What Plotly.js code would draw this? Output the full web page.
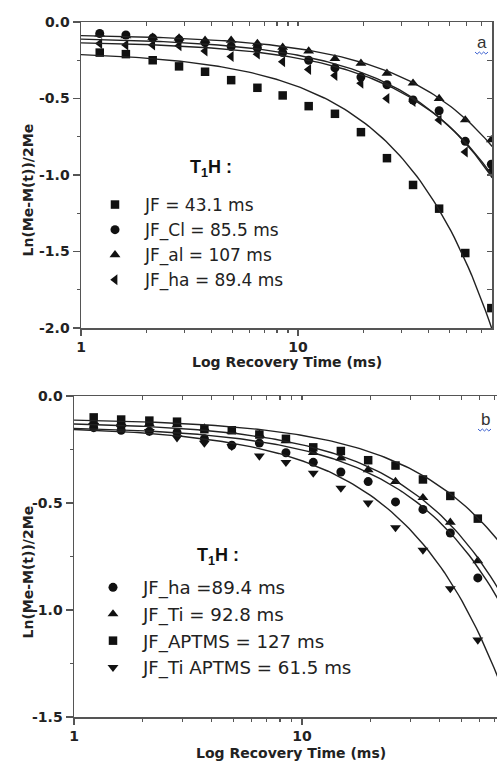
<!DOCTYPE html>
<html><head><meta charset="utf-8">
<script src="https://cdn.plot.ly/plotly-3.0.1.min.js"></script>
<style>html,body{margin:0;padding:0;background:#fff}</style>
</head><body><div id="chart" style="width:497px;height:764px"></div>
<script>
// ---------- Panel a data ----------
const timeA = [1.22, 1.61, 2.14, 2.83, 3.73, 4.92, 6.5, 8.5, 11.2, 14.8, 19.5, 25.7, 33.9, 44.7, 59.0, 77.8];
const jfA   = [-0.20,-0.21,-0.25,-0.29,-0.325,-0.38,-0.43,-0.48,-0.55,-0.60,-0.72,-0.89,-1.065,-1.22,-1.51,-1.87];
const jfClA = [-0.075,-0.085,-0.105,-0.115,-0.135,-0.16,-0.17,-0.20,-0.25,-0.30,-0.36,-0.41,-0.51,-0.58,-0.78,-0.93];
const jfAlA = [-0.08,-0.09,-0.10,-0.105,-0.12,-0.12,-0.14,-0.165,-0.19,-0.24,-0.27,-0.335,-0.40,-0.50,-0.64,-0.77];
const jfHaA = [-0.14,-0.15,-0.15,-0.155,-0.19,-0.225,-0.21,-0.26,-0.31,-0.35,-0.40,-0.50,-0.52,-0.64,-0.85,-0.97];
const namesA = ['JF = 43.1 ms', 'JF_Cl = 85.5 ms', 'JF_al = 107 ms', 'JF_ha = 89.4 ms'];
const t1A = [43.1, 85.5, 107, 89.4];
const y0A = [-0.19, -0.10, -0.08, -0.125];

// ---------- Panel b data ----------
const timeB = [1.22, 1.61, 2.14, 2.83, 3.73, 4.92, 6.5, 8.5, 11.2, 14.8, 19.5, 25.7, 33.9, 44.7, 59.0];
const jfHaB    = [-0.148,-0.16,-0.165,-0.17,-0.20,-0.23,-0.22,-0.265,-0.31,-0.355,-0.40,-0.495,-0.53,-0.64,-0.85];
const jfTiB    = [-0.12,-0.125,-0.13,-0.135,-0.15,-0.165,-0.18,-0.21,-0.265,-0.29,-0.345,-0.40,-0.475,-0.59,-0.77];
const jfAptB   = [-0.10,-0.11,-0.115,-0.12,-0.155,-0.16,-0.18,-0.20,-0.24,-0.257,-0.30,-0.325,-0.39,-0.467,-0.573];
const jfTiAptB = [-0.14,-0.15,-0.165,-0.195,-0.22,-0.235,-0.28,-0.31,-0.36,-0.43,-0.50,-0.615,-0.72,-0.90,-1.14];
const namesB = ['JF_ha =89.4 ms', 'JF_Ti = 92.8 ms', 'JF_APTMS = 127 ms', 'JF_Ti APTMS = 61.5 ms'];
const t1B = [89.4, 92.8, 127, 61.5];
const y0B = [-0.14, -0.12, -0.105, -0.14];

const yTickVals = [0, -0.5, -1, -1.5, -2];
const yTickTextA = ['0.0', '-0.5', '-1.0', '-1.5', '-2.0'];
const yTickTextB = ['0.0', '-0.5', '-1.0', '-1.5'];
const yMinorVals = [-0.25, -0.75, -1.25, -1.75];
const yRightVals = [-0.25, -0.5, -0.75, -1, -1.25, -1.5, -1.75];
const xTickVals = [1, 10];
const xTickText = ['1', '10'];
const xMinorVals = [2,3,4,5,6,7,8,9,20,30,40,50,60,70];
const xTopVals = [2,3,4,5,6,7,8,9,10,20,30,40,50,60,70];

// ---------- geometry ----------
const W = 497, H = 764;
const px = x => x / W, py = y => 1 - y / H;

// fitted model line: ln((Me-M)/2Me) = y0 - t/T1
function fitLine(t1, y0, tmax) {
  const xs = [], ys = [];
  const n = 120;
  for (let i = 0; i <= n; i++) {
    const t = Math.pow(10, Math.log10(tmax) * i / n);
    xs.push(t); ys.push(y0 - t / t1);
  }
  return {xs, ys};
}

const symA = ['square', 'circle', 'triangle-up', 'triangle-left'];
const sizeA = [8.5, 9, 9.5, 9.5];
const seriesA = [jfA, jfClA, jfAlA, jfHaA];
const symB = ['circle', 'triangle-up', 'square', 'triangle-down'];
const sizeB = [9, 9.5, 8.5, 9.5];
const seriesB = [jfHaB, jfTiB, jfAptB, jfTiAptB];

const traces = [];
seriesA.forEach((ys, i) => traces.push({
  type: 'scatter', mode: 'markers', x: timeA, y: ys, name: namesA[i],
  xaxis: 'x', yaxis: 'y', legend: 'legend',
  marker: {symbol: symA[i], size: sizeA[i], color: '#111', line: {width: 0}}
}));
seriesB.forEach((ys, i) => traces.push({
  type: 'scatter', mode: 'markers', x: timeB, y: ys, name: namesB[i],
  xaxis: 'x2', yaxis: 'y2', legend: 'legend2',
  marker: {symbol: symB[i], size: sizeB[i], color: '#111', line: {width: 0}}
}));
// fit lines are drawn on the overlay (top / right) axes, which share the same ranges
t1A.forEach((t1, i) => { const f = fitLine(t1, y0A[i], 78.5); traces.push({
  type: 'scatter', mode: 'lines', x: f.xs, y: f.ys, xaxis: 'x3', yaxis: 'y3', showlegend: false,
  line: {color: '#222', width: 1.4}, hoverinfo: 'skip'}); });
t1B.forEach((t1, i) => { const f = fitLine(t1, y0B[i], 72); traces.push({
  type: 'scatter', mode: 'lines', x: f.xs, y: f.ys, xaxis: 'x4', yaxis: 'y2', showlegend: false,
  line: {color: '#222', width: 1.4}, hoverinfo: 'skip'}); });

const lineCol = '#555';
const base = {showline: true, linecolor: lineCol, linewidth: 1.5, showgrid: false, zeroline: false,
  tickcolor: lineCol, tickwidth: 1.5, fixedrange: true};
const tickFont = {family: 'DejaVu Sans', size: 14, weight: 'bold', color: '#222'};

function xBottom(domain, range, anchor) {
  return Object.assign({}, base, {type: 'log', domain, range, anchor, side: 'bottom',
    ticks: 'outside', ticklen: 6, tickmode: 'array', tickvals: xTickVals, ticktext: xTickText,
    tickfont: tickFont,
    minor: {tickmode: 'array', tickvals: xMinorVals, ticks: 'outside', ticklen: 3, tickwidth: 1.2, tickcolor: lineCol}});
}
function xTop(over, range, anchor) {
  return Object.assign({}, base, {type: 'log', overlaying: over, range, anchor, side: 'top',
    ticks: 'inside', ticklen: 4, tickwidth: 1.2, tickmode: 'array', tickvals: xTopVals, showticklabels: false});
}
function yLeft(domain, range, anchor, text) {
  return Object.assign({}, base, {domain, range, anchor, side: 'left',
    ticks: 'outside', ticklen: 7, tickmode: 'array', tickvals: yTickVals.slice(0, text.length), ticktext: text,
    tickfont: tickFont,
    minor: {tickmode: 'array', tickvals: yMinorVals, ticks: 'outside', ticklen: 3, tickwidth: 1.2, tickcolor: lineCol}});
}

const rangeA = [0, 1.894], rangeB = [0, 1.855];

const titleFont = {family: 'DejaVu Sans', size: 14, weight: 'bold', color: '#222'};
const legFontA = {family: 'DejaVu Sans', size: 17, color: '#222'};
const legFontB = {family: 'DejaVu Sans', size: 18.2, color: '#222'};

function squiggle(x0, x1, y) {
  let d = 'M' + px(x0) + ',' + py(y);
  const steps = 6, w = (x1 - x0) / steps;
  for (let i = 1; i <= steps; i++) d += ' L' + px(x0 + i * w) + ',' + py(y + (i % 2 ? 2 : 0));
  return {type: 'path', xref: 'paper', yref: 'paper', path: d, line: {color: '#3a5fd0', width: 1}};
}

const layout = {
  width: W, height: H, autosize: false,
  margin: {l: 0, r: 0, t: 0, b: 0, pad: 0},
  paper_bgcolor: '#fff', plot_bgcolor: 'rgba(0,0,0,0)',
  showlegend: true,
  xaxis: xBottom([px(81), px(492)], rangeA, 'y'),
  yaxis: yLeft([py(328), py(22)], [-2, 0], 'x', yTickTextA),
  xaxis3: xTop('x', rangeA, 'y'),
  yaxis3: Object.assign({}, base, {overlaying: 'y', side: 'right', anchor: 'x', range: [-2, 0],
    ticks: 'inside', ticklen: 5, tickwidth: 1.2, tickmode: 'array', tickvals: yRightVals, showticklabels: false}),
  xaxis2: xBottom([px(74), 1], rangeB, 'y2'),
  yaxis2: yLeft([py(717), py(396)], [-1.5, 0], 'x2', yTickTextB),
  xaxis4: xTop('x2', rangeB, 'y2'),
  legend: {x: px(85), y: py(187), xanchor: 'left', yanchor: 'top', bgcolor: 'rgba(0,0,0,0)',
    borderwidth: 0, font: legFontA, itemwidth: 50, traceorder: 'normal', tracegroupgap: 0},
  legend2: {x: px(83), y: py(569), xanchor: 'left', yanchor: 'top', bgcolor: 'rgba(0,0,0,0)',
    borderwidth: 0, font: legFontB, itemwidth: 50, traceorder: 'normal', tracegroupgap: 0},
  annotations: [
    {text: 'Log Recovery Time (ms)', xref: 'paper', yref: 'paper', x: px(287), y: py(362),
      xanchor: 'center', yanchor: 'middle', showarrow: false, font: titleFont},
    {text: 'Log Recovery Time (ms)', xref: 'paper', yref: 'paper', x: px(291), y: py(753),
      xanchor: 'center', yanchor: 'middle', showarrow: false, font: titleFont},
    {text: 'Ln(Me-M(t))/2Me', xref: 'paper', yref: 'paper', x: px(27.5), y: py(190), textangle: -90,
      xanchor: 'center', yanchor: 'middle', showarrow: false, font: titleFont},
    {text: 'Ln(Me-M(t))/2Me', xref: 'paper', yref: 'paper', x: px(27.5), y: py(572), textangle: -90,
      xanchor: 'center', yanchor: 'middle', showarrow: false, font: titleFont},
    {text: '<b>T<sub>1</sub>H :</b>', xref: 'paper', yref: 'paper', x: px(188), y: py(168),
      xanchor: 'left', yanchor: 'middle', showarrow: false, font: {family: 'Liberation Sans', size: 18, color: '#111'}},
    {text: '<b>T<sub>1</sub>H :</b>', xref: 'paper', yref: 'paper', x: px(195), y: py(556),
      xanchor: 'left', yanchor: 'middle', showarrow: false, font: {family: 'Liberation Sans', size: 18, color: '#111'}},
    {text: 'a', xref: 'paper', yref: 'paper', x: px(482), y: py(43),
      xanchor: 'center', yanchor: 'middle', showarrow: false, font: {family: 'Liberation Sans', size: 17, color: '#333'}},
    {text: 'b', xref: 'paper', yref: 'paper', x: px(485), y: py(419),
      xanchor: 'center', yanchor: 'middle', showarrow: false, font: {family: 'Liberation Sans', size: 17, color: '#333'}}
  ],
  shapes: [squiggle(475, 488, 52), squiggle(478, 491, 429)]
};

Plotly.newPlot('chart', traces, layout, {displayModeBar: false, staticPlot: true});
</script></body></html>
